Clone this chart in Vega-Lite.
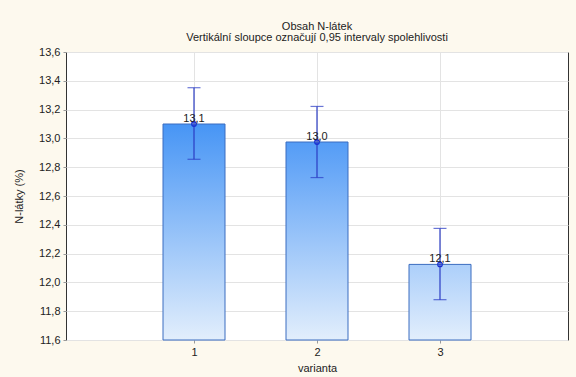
{
  "$schema": "https://vega.github.io/schema/vega-lite/v6.json",
  "width": 502,
  "height": 288,
  "autosize": {"type": "none"},
  "padding": {"left": 66, "top": 52, "right": 8, "bottom": 37},
  "background": "#fdf9ee",
  "config": {
    "locale": {"number": {"decimal": ",", "thousands": " ", "grouping": [3], "currency": ["", " Kč"]}},
    "font": "Liberation Sans",
    "view": {"fill": "white", "stroke": "#333333", "strokeWidth": 1},
    "axis": {"labelFont": "Liberation Sans", "titleFont": "Liberation Sans", "labelFontSize": 11, "titleFontSize": 11, "labelColor": "#222222", "titleColor": "#222222", "titleFontWeight": "normal", "gridColor": "#e3e3e3", "domain": false, "tickColor": "#999999"}
  },
  "title": {
    "text": "Obsah N-látek",
    "subtitle": "Vertikální sloupce označují 0,95 intervaly spolehlivosti",
    "fontSize": 11,
    "fontWeight": "normal",
    "subtitleFontSize": 11,
    "color": "#222222",
    "subtitleColor": "#222222",
    "font": "Liberation Sans",
    "subtitleFont": "Liberation Sans",
    "subtitlePadding": 0,
    "offset": 3,
    "anchor": "middle"
  },
  "data": {
    "values": [
      {"varianta": 1, "mean": 13.10, "lo": 12.855, "hi": 13.352, "label": 13.1},
      {"varianta": 2, "mean": 12.975, "lo": 12.728, "hi": 13.222, "label": 13.0},
      {"varianta": 3, "mean": 12.125, "lo": 11.88, "hi": 12.375, "label": 12.1}
    ]
  },
  "encoding": {
    "x": {"field": "varianta", "type": "quantitative", "scale": {"domain": [0, 4], "nice": false, "zero": false},
      "axis": {"title": "varianta", "values": [1, 2, 3], "format": "d", "tickSize": 3, "labelPadding": 3, "titlePadding": 5}},
    "y": {"field": "mean", "type": "quantitative", "scale": {"domain": [11.6, 13.6], "nice": false, "zero": false},
      "axis": {"title": "N-látky (%)", "values": [11.6, 11.8, 12.0, 12.2, 12.4, 12.6, 12.8, 13.0, 13.2, 13.4, 13.6], "format": ".1f", "tickSize": 3, "labelPadding": 3, "titlePadding": 14}}
  },
  "layer": [
    {
      "transform": [{"filter": "datum.varianta == 1"}],
      "mark": {"type": "bar", "size": 62, "stroke": "#3a6cc0", "strokeWidth": 1,
        "fill": {"gradient": "linear", "x1": 0, "y1": 0, "x2": 0, "y2": 1, "stops": [{"offset": 0, "color": "#4795f5"}, {"offset": 1, "color": "#e2eefc"}]}},
      "encoding": {"y2": {"datum": 11.6}}
    },
    {
      "transform": [{"filter": "datum.varianta == 2"}],
      "mark": {"type": "bar", "size": 62, "stroke": "#3a6cc0", "strokeWidth": 1,
        "fill": {"gradient": "linear", "x1": 0, "y1": 0, "x2": 0, "y2": 1, "stops": [{"offset": 0, "color": "#549cf6"}, {"offset": 1, "color": "#e2eefc"}]}},
      "encoding": {"y2": {"datum": 11.6}}
    },
    {
      "transform": [{"filter": "datum.varianta == 3"}],
      "mark": {"type": "bar", "size": 62, "stroke": "#3a6cc0", "strokeWidth": 1,
        "fill": {"gradient": "linear", "x1": 0, "y1": 0, "x2": 0, "y2": 1, "stops": [{"offset": 0, "color": "#accffa"}, {"offset": 1, "color": "#e2eefc"}]}},
      "encoding": {"y2": {"datum": 11.6}}
    },
    {
      "mark": {"type": "rule", "color": "#2b3cc4", "strokeWidth": 1.2},
      "encoding": {"y": {"field": "lo", "type": "quantitative"}, "y2": {"field": "hi"}}
    },
    {
      "mark": {"type": "tick", "orient": "horizontal", "color": "#2b3cc4", "size": 13, "thickness": 1.2},
      "encoding": {"y": {"field": "lo", "type": "quantitative"}}
    },
    {
      "mark": {"type": "tick", "orient": "horizontal", "color": "#2b3cc4", "size": 13, "thickness": 1.2},
      "encoding": {"y": {"field": "hi", "type": "quantitative"}}
    },
    {
      "mark": {"type": "point", "shape": "circle", "size": 20, "color": "#1a2fd0", "filled": false, "strokeWidth": 1.3, "opacity": 1},
      "encoding": {}
    },
    {
      "mark": {"type": "text", "dy": -5, "fontSize": 11, "color": "#222222", "font": "Liberation Sans"},
      "encoding": {"text": {"field": "label", "type": "quantitative", "format": ".1f"}}
    }
  ]
}
